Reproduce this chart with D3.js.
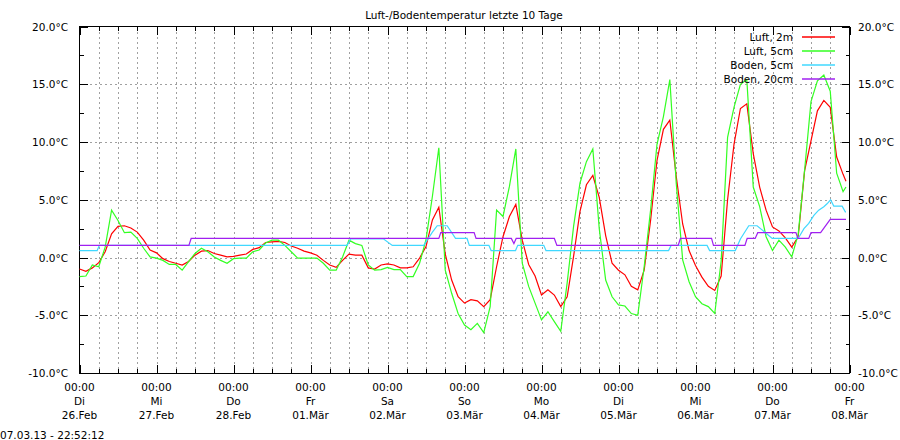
<!DOCTYPE html>
<html>
<head>
<meta charset="utf-8">
<script src="https://cdn.jsdelivr.net/npm/d3@7/dist/d3.min.js"></script>
<style>
body { margin: 0; background: #fff; }
svg text { font-family: 'DejaVu Sans', sans-serif; font-size: 10.5px; fill: #000; }
</style>
</head>
<body>
<svg id="chart" width="900" height="440"></svg>
<script>
var title = "Luft-/Bodentemperatur letzte 10 Tage";
var stamp = "07.03.13 - 22:52:12";

// x axis: hours since 26.Feb 00:00
var dayHours = [0, 24, 48, 72, 96, 120, 144, 168, 192, 216, 240];
var dayNames = ["Di", "Mi", "Do", "Fr", "Sa", "So", "Mo", "Di", "Mi", "Do", "Fr"];
var dayDates = ["26.Feb", "27.Feb", "28.Feb", "01.Mär", "02.Mär", "03.Mär", "04.Mär", "05.Mär", "06.Mär", "07.Mär", "08.Mär"];
var yTicks = [-10, -5, 0, 5, 10, 15, 20];
var yMinor = [-7.5, -2.5, 2.5, 7.5, 12.5, 17.5];

var seriesNames = ["Luft, 2m", "Luft, 5cm", "Boden, 5cm", "Boden, 20cm"];
var seriesColors = ["#ff0000", "#33ff22", "#40d8ff", "#a020f0"];

// air readings every 2h, last one at 22:52
var airHours = d3.range(0, 239, 2).concat([238.9]);
var luft2m = [
  -1.0, -1.2, -0.9, -0.45, 0.5, 2.05, 2.7, 2.75, 2.55, 2.2,
  1.5, 0.65, 0.4, -0.1, -0.35, -0.5, -0.65, -0.35, 0.2, 0.55,
  0.6, 0.35, 0.2, 0.05, 0.1, 0.2, 0.3, 0.7, 0.85, 1.3,
  1.35, 1.4, 1.3, 1.0, 0.8, 0.55, 0.4, 0.2, -0.25, -0.65,
  -0.85, -0.25, 0.3, 0.2, 0.2, -0.9, -1.0, -0.65, -0.55, -0.65,
  -0.9, -0.9, -0.8, -0.05, 0.95, 3.25, 4.35, 0.3, -1.95, -3.4,
  -3.95, -3.65, -3.75, -4.25, -3.65, -0.8, 1.8, 3.55, 4.6, 1.5,
  -0.6, -1.6, -3.25, -2.8, -3.25, -4.25, -3.4, 0.1, 4.0, 6.3,
  7.1, 5.2, 1.9, -0.5, -1.1, -1.5, -2.5, -2.8, -1.1, 3.2,
  8.4, 11.1, 11.9, 7.0, 2.9, 0.6, -0.7, -1.7, -2.5, -2.85,
  -1.6, 5.0, 9.8, 12.9, 13.3, 9.0, 6.1, 4.1, 2.65, 2.3,
  1.7, 0.9, 1.8, 7.5, 10.1, 12.7, 13.6, 13.0, 8.7, 7.2,
  6.6
];
var luft5cm = [
  -1.65, -1.6, -0.65, -0.8, 0.9, 4.1, 3.2, 2.15, 2.2, 1.65,
  0.8, 0.05, -0.05, -0.25, -0.6, -0.6, -1.1, -0.35, 0.35, 0.8,
  0.5, 0.05, -0.25, -0.5, -0.1, -0.05, -0.05, 0.5, 0.65, 1.25,
  1.5, 1.5, 1.05, 0.5, -0.05, -0.05, -0.05, -0.05, -0.5, -1.1,
  -1.1, 0.05, 1.5, 1.2, 1.05, -0.65, -1.1, -1.05, -0.85, -1.05,
  -1.05, -1.65, -1.65, -0.5, 1.55, 5.3, 9.5, -1.1, -3.1, -4.85,
  -5.85, -6.25, -5.7, -6.5, -4.25, 4.1, 3.55, 6.15, 9.4, -0.5,
  -2.5, -3.95, -5.4, -4.7, -5.55, -6.4, -2.2, 2.7, 6.45, 8.3,
  9.4, 2.5, -1.95, -3.4, -4.1, -4.2, -4.85, -5.0, -0.8, 4.1,
  9.8, 12.2, 15.4, 6.4, -0.2, -2.1, -3.4, -4.0, -4.25, -4.85,
  -0.3, 10.4, 13.0, 15.0, 15.4, 6.1, 4.4, 1.8, 0.6, 1.5,
  0.9, 0.05, 2.0, 7.55, 13.5, 15.3, 15.8, 14.4, 7.3, 5.7,
  6.1
];
// soil readings change in steps: [hour, value]
var boden5cm = [
  [0, 0.6], [5.5, 0.6], [6.2, 1.05], [83.4, 1.05], [84.5, 1.6], [94.8, 1.6], [97.5, 1.05],
  [107.3, 1.05], [110, 2.2], [111.5, 2.75], [114.6, 2.75], [117.2, 1.65], [120.8, 1.65],
  [121.5, 1.05], [127.6, 1.05], [128.3, 0.6], [135.9, 0.6], [136.6, 1.05], [144.7, 1.05],
  [145.4, 0.6], [183.6, 0.6], [184.4, 1.05], [195.6, 1.05], [196.4, 0.6], [204.4, 0.6],
  [206, 1.6], [208.6, 2.75], [211.2, 2.75], [215.9, 1.65], [224, 1.65], [225.8, 2.5],
  [227.3, 2.95], [228.9, 3.65], [230.4, 4.1], [232, 4.4], [233, 4.65], [234.1, 5.0],
  [235.1, 4.45], [237.7, 4.45], [238.7, 3.95], [238.9, 3.95]
];
var boden20cm = [
  [0, 1.05], [34.1, 1.05], [34.8, 1.65], [112, 1.65], [112.6, 2.15], [123, 2.15],
  [123.6, 1.65], [134.6, 1.65], [135.4, 1.2], [136.1, 1.65], [148, 1.65], [148.8, 1.05],
  [186.6, 1.05], [187.3, 1.65], [197, 1.65], [197.6, 1.05], [207.4, 1.05], [208.1, 1.65],
  [210.6, 1.65], [211.4, 2.15], [223.3, 2.15], [223.9, 1.65], [227.3, 1.65], [228, 2.15],
  [231, 2.15], [234, 3.3], [238.9, 3.3]
];

var svg = d3.select("#chart");
var plotLeft = 79.5, plotRight = 849.5, plotTop = 26.5, plotBottom = 373;

var x = d3.scaleLinear().domain([0, 240]).range([plotLeft, plotRight]);
var y = d3.scaleLinear().domain([-10, 20]).range([plotBottom, plotTop]);

svg.append("text")
  .attr("x", 464).attr("y", 19)
  .attr("text-anchor", "middle")
  .text(title);

// grid
var grid = svg.append("g")
  .attr("stroke", "#a0a0a0")
  .attr("stroke-dasharray", "2,3")
  .attr("shape-rendering", "crispEdges");
grid.selectAll("line.h").data(yTicks.slice(1, -1)).enter().append("line")
  .attr("x1", plotLeft).attr("x2", plotRight)
  .attr("y1", function (d) { return Math.round(y(d)) + 0.5; })
  .attr("y2", function (d) { return Math.round(y(d)) + 0.5; });
grid.selectAll("line.v").data(d3.range(6, 240, 6)).enter().append("line")
  .attr("y1", plotTop).attr("y2", plotBottom)
  .attr("x1", function (d) { return Math.round(x(d)) + 0.5; })
  .attr("x2", function (d) { return Math.round(x(d)) + 0.5; });

// ticks on all four sides
var ticks = svg.append("g").attr("stroke", "#000").attr("shape-rendering", "crispEdges");
function yTick(v, len) {
  var yy = Math.round(y(v)) + 0.5;
  ticks.append("line").attr("x1", plotLeft).attr("x2", plotLeft + len).attr("y1", yy).attr("y2", yy);
  ticks.append("line").attr("x1", plotRight).attr("x2", plotRight - len).attr("y1", yy).attr("y2", yy);
}
function xTick(h, len) {
  var xx = Math.round(x(h)) + 0.5;
  ticks.append("line").attr("x1", xx).attr("x2", xx).attr("y1", plotBottom).attr("y2", plotBottom - len);
  ticks.append("line").attr("x1", xx).attr("x2", xx).attr("y1", plotTop).attr("y2", plotTop + len);
}
yTicks.forEach(function (v) { yTick(v, 8); });
yMinor.forEach(function (v) { yTick(v, 4); });
d3.range(0, 241, 6).forEach(function (h) { xTick(h, h % 24 == 0 ? 8 : 4); });

svg.append("rect")
  .attr("x", plotLeft).attr("y", plotTop)
  .attr("width", plotRight - plotLeft).attr("height", plotBottom - plotTop)
  .attr("fill", "none").attr("stroke", "#000")
  .attr("shape-rendering", "crispEdges");

// y labels both sides
yTicks.forEach(function (v) {
  var lab = v.toFixed(1) + "°C";
  svg.append("text").attr("x", 68).attr("y", y(v) + 4).attr("text-anchor", "end").text(lab);
  svg.append("text").attr("x", 858).attr("y", y(v) + 4).attr("text-anchor", "start").text(lab);
});

// x labels: time, weekday, date
dayHours.forEach(function (h, i) {
  var lx = x(h);
  svg.append("text").attr("x", lx).attr("y", 391).attr("text-anchor", "middle").text("00:00");
  svg.append("text").attr("x", lx).attr("y", 405).attr("text-anchor", "middle").text(dayNames[i]);
  svg.append("text").attr("x", lx).attr("y", 419).attr("text-anchor", "middle").text(dayDates[i]);
});

svg.append("text").attr("x", 0).attr("y", 439).text(stamp);

// data lines
var line = d3.line()
  .x(function (d) { return x(d[0]); })
  .y(function (d) { return y(d[1]); });

var allSeries = [
  d3.zip(airHours, luft2m),
  d3.zip(airHours, luft5cm),
  boden5cm,
  boden20cm
];
allSeries.forEach(function (s, i) {
  svg.append("path")
    .datum(s)
    .attr("d", line)
    .attr("fill", "none")
    .attr("stroke", seriesColors[i])
    .attr("stroke-width", 1.2);
});

// legend
var legend = svg.append("g");
seriesNames.forEach(function (name, i) {
  var ly = 37 + i * 14;
  legend.append("text").attr("x", 793).attr("y", ly + 4).attr("text-anchor", "end").text(name);
  legend.append("path")
    .attr("d", "M802," + ly + "H835")
    .attr("fill", "none")
    .attr("stroke", seriesColors[i])
    .attr("stroke-width", 1.5);
});
</script>
</body>
</html>
